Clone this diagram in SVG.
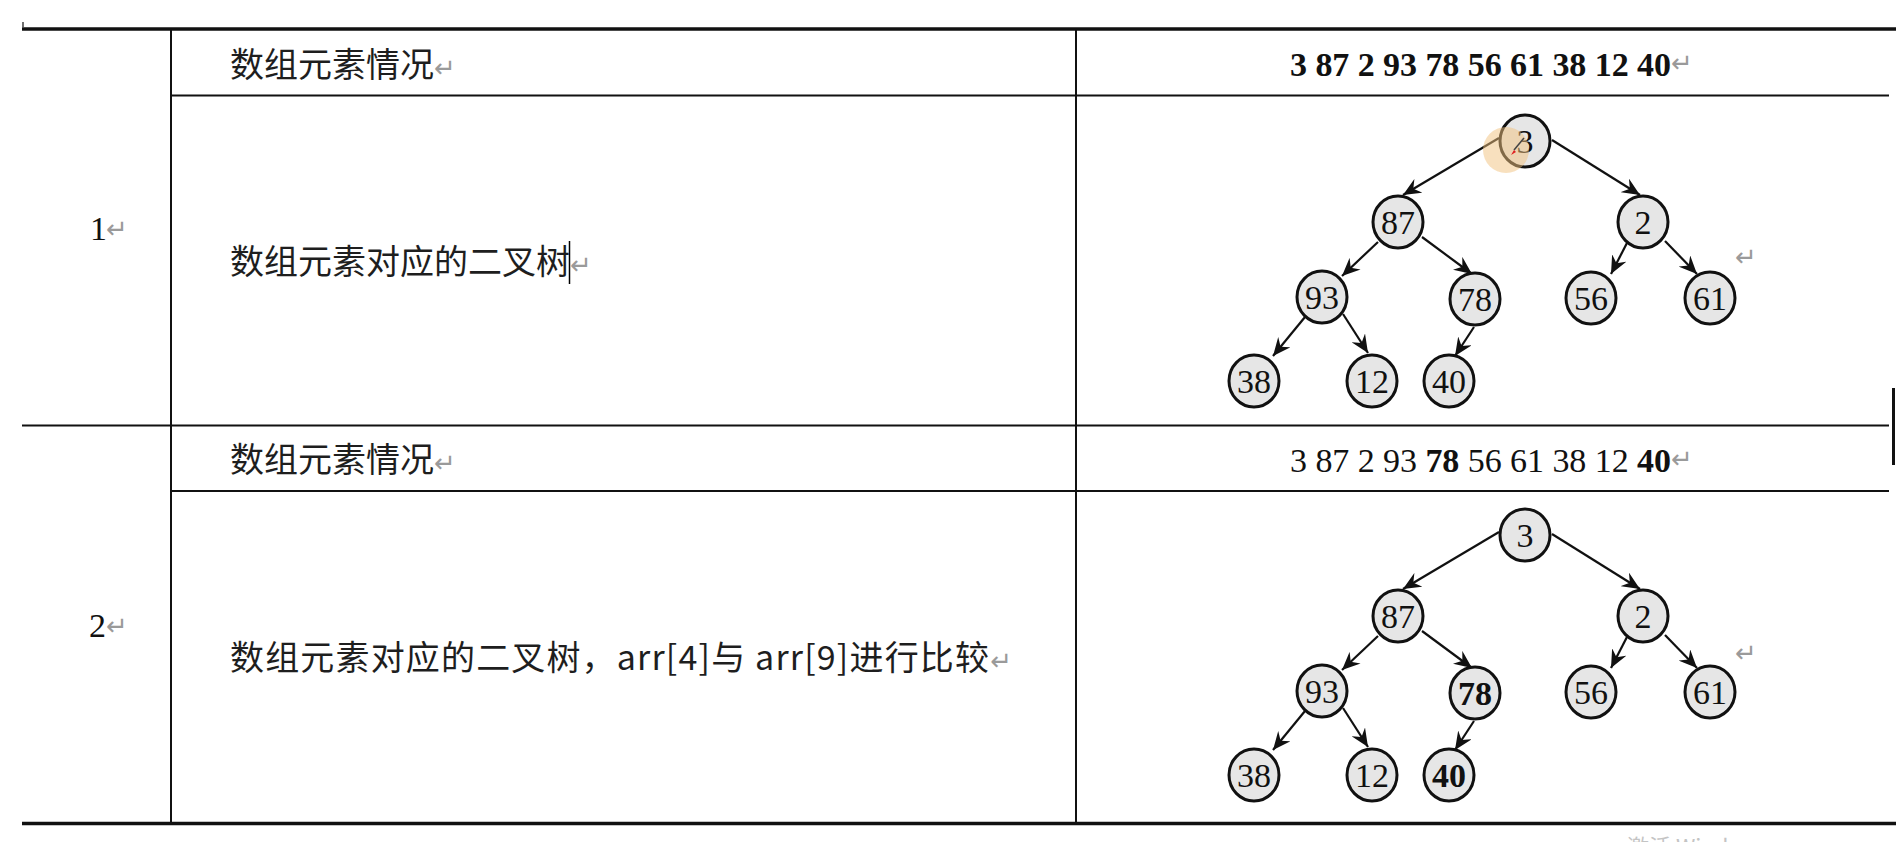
<svg xmlns="http://www.w3.org/2000/svg" width="1896" height="842" viewBox="0 0 1896 842">
<defs>
<style>
.cjk{font-family:"Noto Sans CJK SC","Noto Sans",sans-serif;font-size:34px;fill:#1e1e1e}
.num{font-family:"Liberation Serif",serif;font-size:34px;fill:#111}
.mark{font-family:"DejaVu Sans",sans-serif;font-size:26px;fill:#9a9a9a;font-weight:normal}
.node ellipse{fill:#e6e6e6;stroke:#111;stroke-width:3}
.node text{font-family:"Liberation Serif",serif;font-size:34px;text-anchor:middle;fill:#111}
.b{font-weight:bold}
.edge{stroke:#111;stroke-width:2.2;fill:none;marker-end:url(#arr)}
.grid line{stroke:#111}
</style>
<marker id="arr" markerUnits="userSpaceOnUse" markerWidth="20" markerHeight="16" refX="18" refY="8" orient="auto" viewBox="0 0 20 16">
<path d="M0,0 L18,8 L0,16 L6,8 Z" fill="#111"/>
</marker>
</defs>
<rect width="1896" height="842" fill="#fff"/>

<g id="table" class="grid">
<line x1="22" y1="29" x2="1896" y2="29" stroke-width="3.5"/>
<line x1="171" y1="29" x2="171" y2="823" stroke-width="2"/>
<line x1="1076" y1="29" x2="1076" y2="823" stroke-width="2"/>
<line x1="171" y1="95.5" x2="1889" y2="95.5" stroke-width="2.2"/>
<line x1="22" y1="425.5" x2="1889" y2="425.5" stroke-width="2.2"/>
<line x1="171" y1="491" x2="1889" y2="491" stroke-width="2.2"/>
<line x1="22" y1="823.5" x2="1896" y2="823.5" stroke-width="3.5"/>
<line x1="23" y1="22" x2="23" y2="27" stroke="#999" stroke-width="1.2"/>
<line x1="1893.5" y1="388" x2="1893.5" y2="465" stroke-width="3"/>
</g>

<g id="labels">
<text class="num" x="90" y="240" font-size="31" textLength="12">1</text><text class="mark" x="106" y="238">↵</text>
<text class="num" x="89" y="637" font-size="31" textLength="14">2</text><text class="mark" x="106" y="635">↵</text>
<text class="cjk" x="230" y="77">数组元素情况<tspan class="mark">↵</tspan></text>
<text class="cjk" x="230" y="274">数组元素对应的二叉树<tspan class="mark">↵</tspan></text>
<line x1="569.5" y1="241" x2="569.5" y2="284" stroke="#000" stroke-width="1.5"/>
<text class="cjk" x="230" y="472">数组元素情况<tspan class="mark">↵</tspan></text>
<text class="cjk" x="230" y="670"><tspan textLength="759">数组元素对应的二叉树，arr[4]与 arr[9]进行比较</tspan><tspan class="mark">↵</tspan></text>
<text class="num b" x="1290" y="76" textLength="381">3 87 2 93 78 56 61 38 12 40</text><text class="mark" x="1671" y="72">↵</text>
<text class="num" x="1290" y="472" textLength="381">3 87 2 93 <tspan class="b">78</tspan> 56 61 38 12 <tspan class="b">40</tspan></text><text class="mark" x="1671" y="468">↵</text>
<text class="mark" x="1735" y="266">↵</text>
<text class="mark" x="1735" y="662">↵</text>
</g>

<g id="connectors">
<line class="edge" x1="1499" y1="138" x2="1403" y2="195"/>
<line class="edge" x1="1552" y1="140" x2="1640" y2="195"/>
<line class="edge" x1="1378" y1="242" x2="1342" y2="276"/>
<line class="edge" x1="1422" y1="237" x2="1472" y2="274"/>
<line class="edge" x1="1628" y1="241" x2="1611" y2="274"/>
<line class="edge" x1="1665" y1="241" x2="1697" y2="274"/>
<line class="edge" x1="1305" y1="317" x2="1273" y2="356"/>
<line class="edge" x1="1343" y1="314" x2="1368" y2="353"/>
<line class="edge" x1="1474" y1="327" x2="1455" y2="356"/>
<line class="edge" x1="1499" y1="532" x2="1403" y2="589"/>
<line class="edge" x1="1552" y1="534" x2="1640" y2="589"/>
<line class="edge" x1="1378" y1="636" x2="1342" y2="670"/>
<line class="edge" x1="1422" y1="631" x2="1472" y2="668"/>
<line class="edge" x1="1628" y1="635" x2="1611" y2="668"/>
<line class="edge" x1="1665" y1="635" x2="1697" y2="668"/>
<line class="edge" x1="1305" y1="711" x2="1273" y2="750"/>
<line class="edge" x1="1343" y1="708" x2="1368" y2="747"/>
<line class="edge" x1="1474" y1="721" x2="1455" y2="750"/>
</g>

<g id="t1-n3" class="node"><ellipse cx="1525" cy="141" rx="25" ry="26"/><text x="1525" y="153">3</text></g>
<g id="t1-n87" class="node"><ellipse cx="1398" cy="222" rx="25" ry="26"/><text x="1398" y="234">87</text></g>
<g id="t1-n2" class="node"><ellipse cx="1643" cy="222" rx="25" ry="26"/><text x="1643" y="234">2</text></g>
<g id="t1-n93" class="node"><ellipse cx="1322" cy="297" rx="25" ry="26"/><text x="1322" y="309">93</text></g>
<g id="t1-n78" class="node"><ellipse cx="1475" cy="299" rx="25" ry="26"/><text x="1475" y="311">78</text></g>
<g id="t1-n56" class="node"><ellipse cx="1591" cy="298" rx="25" ry="26"/><text x="1591" y="310">56</text></g>
<g id="t1-n61" class="node"><ellipse cx="1710" cy="298" rx="25" ry="26"/><text x="1710" y="310">61</text></g>
<g id="t1-n38" class="node"><ellipse cx="1254" cy="381" rx="25" ry="26"/><text x="1254" y="393">38</text></g>
<g id="t1-n12" class="node"><ellipse cx="1372" cy="381" rx="25" ry="26"/><text x="1372" y="393">12</text></g>
<g id="t1-n40" class="node"><ellipse cx="1449" cy="381" rx="25" ry="26"/><text x="1449" y="393">40</text></g>

<g id="t2-n3" class="node"><ellipse cx="1525" cy="535" rx="25" ry="26"/><text x="1525" y="547">3</text></g>
<g id="t2-n87" class="node"><ellipse cx="1398" cy="616" rx="25" ry="26"/><text x="1398" y="628">87</text></g>
<g id="t2-n2" class="node"><ellipse cx="1643" cy="616" rx="25" ry="26"/><text x="1643" y="628">2</text></g>
<g id="t2-n93" class="node"><ellipse cx="1322" cy="691" rx="25" ry="26"/><text x="1322" y="703">93</text></g>
<g id="t2-n78" class="node"><ellipse cx="1475" cy="693" rx="25" ry="26"/><text class="b" x="1475" y="705">78</text></g>
<g id="t2-n56" class="node"><ellipse cx="1591" cy="692" rx="25" ry="26"/><text x="1591" y="704">56</text></g>
<g id="t2-n61" class="node"><ellipse cx="1710" cy="692" rx="25" ry="26"/><text x="1710" y="704">61</text></g>
<g id="t2-n38" class="node"><ellipse cx="1254" cy="775" rx="25" ry="26"/><text x="1254" y="787">38</text></g>
<g id="t2-n12" class="node"><ellipse cx="1372" cy="775" rx="25" ry="26"/><text x="1372" y="787">12</text></g>
<g id="t2-n40" class="node"><ellipse cx="1449" cy="775" rx="25" ry="26"/><text class="b" x="1449" y="787">40</text></g>

<g id="overlay">
<circle cx="1506" cy="150" r="23" fill="#f2c27e" opacity="0.5"/>
<line x1="1524" y1="138" x2="1514" y2="150" stroke="#444" stroke-width="1.5"/>
<path d="M1514,150 L1511,155 L1516,152 Z" fill="#e02020"/>
<text x="1627" y="855" font-family="'Noto Sans CJK SC',sans-serif" font-size="22" fill="#c4c4c4">激活 Windows</text>
</g>
</svg>
